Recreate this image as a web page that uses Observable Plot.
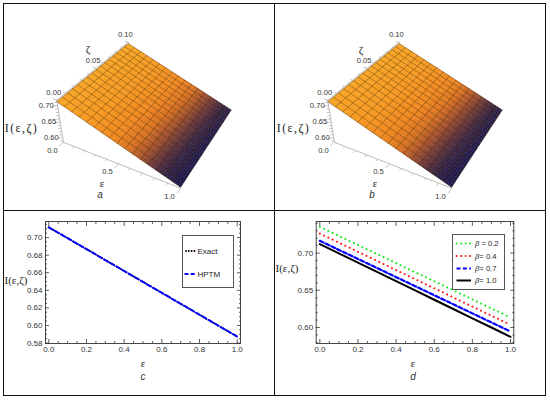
<!DOCTYPE html>
<html><head><meta charset="utf-8">
<script src="https://cdn.jsdelivr.net/npm/d3@7"></script>
<script src="https://cdn.jsdelivr.net/npm/@observablehq/plot@0.6"></script>
<style>
body{margin:0;background:#fff;}
#page{position:relative;width:550px;height:401px;overflow:hidden;background:#fff;font-family:"Liberation Sans",Arial,sans-serif;}
.panel{position:absolute;}
.lbl{position:absolute;transform:translate(-50%,-50%);white-space:nowrap;color:#222;line-height:1;}
.serif{font-family:"Liberation Serif","DejaVu Serif",serif;}
.let{font-style:italic;font-size:10px;color:#333;}
.line{position:absolute;background:#111;}
.legend{position:absolute;background:#fff;border:1px solid #555;box-sizing:border-box;}
</style></head>
<body><div id="page"></div>
<script>
// ---------------- data ----------------
// panel c (Exact vs HPTM)
const epsC   = [0, 0.1, 0.2, 0.3, 0.4, 0.5, 0.6, 0.7, 0.8, 0.9, 1.0];
const exactC = [0.7117, 0.6993, 0.6869, 0.6744, 0.6620, 0.6496, 0.6371, 0.6247, 0.6122, 0.5998, 0.5873];
const hptmC  = [0.7117, 0.6993, 0.6869, 0.6744, 0.6620, 0.6496, 0.6371, 0.6247, 0.6122, 0.5998, 0.5873];
// panel d (beta values)
const epsD   = [0, 0.1, 0.2, 0.3, 0.4, 0.5, 0.6, 0.7, 0.8, 0.9, 1.0];
const beta02 = [0.7353, 0.7231, 0.7109, 0.6987, 0.6865, 0.6743, 0.6622, 0.6500, 0.6378, 0.6256, 0.6134];
const beta04 = [0.7263, 0.7140, 0.7018, 0.6895, 0.6772, 0.6650, 0.6527, 0.6404, 0.6281, 0.6159, 0.6036];
const beta07 = [0.7165, 0.7043, 0.6921, 0.6799, 0.6677, 0.6556, 0.6434, 0.6312, 0.6190, 0.6068, 0.5946];
const beta10 = [0.7121, 0.6996, 0.6872, 0.6747, 0.6623, 0.6498, 0.6373, 0.6249, 0.6124, 0.6000, 0.5875];
const betaNames = ["0.2", "0.4", "0.7", "1.0"];
const betaEq    = [" = ", "= ", "= ", "= "];
// tick labels
const xTicks2D = [0, 0.2, 0.4, 0.6, 0.8, 1.0];
const yTicksC  = [0.58, 0.60, 0.62, 0.64, 0.66, 0.68, 0.70];
const yTicksD  = [0.60, 0.65, 0.70];
// surface panels a, b
const surfEps  = [0, 0.0625, 0.125, 0.1875, 0.25, 0.3125, 0.375, 0.4375, 0.5, 0.5625, 0.625, 0.6875, 0.75, 0.8125, 0.875, 0.9375, 1.0];
const surfZeta = [0, 0.00625, 0.0125, 0.01875, 0.025, 0.03125, 0.0375, 0.04375, 0.05, 0.05625, 0.0625, 0.06875, 0.075, 0.08125, 0.0875, 0.09375, 0.1];
const surfI    = [0.7117, 0.7039, 0.6962, 0.6884, 0.6806, 0.6728, 0.6651, 0.6573, 0.6495, 0.6417, 0.6340, 0.6262, 0.6184, 0.6106, 0.6029, 0.5951, 0.5873];
const zTicks3D    = [0.60, 0.65, 0.70];
const epsTicks3D  = [0.0, 0.5, 1.0];
const zetaTicks3D = [0.00, 0.05, 0.10];

// ---------------- helpers ----------------
const page = document.getElementById("page");
function place(node, left, top){ const d=document.createElement("div"); d.className="panel"; d.style.left=left+"px"; d.style.top=top+"px"; d.appendChild(node); page.appendChild(d); }
function label(html, x, y, cls, style){ const d=document.createElement("div"); d.className="lbl "+(cls||""); d.innerHTML=html; d.style.left=x+"px"; d.style.top=y+"px"; if(style) d.style.cssText+=style; page.appendChild(d); }
function hline(x,y,w,h){ const d=document.createElement("div"); d.className="line"; d.style.cssText+=`left:${x}px;top:${y}px;width:${w}px;height:${h}px;`; page.appendChild(d); }

// 3-D projection (Mathematica default viewpoint)
const VIEW = [1.3, -2.4, 2];
const Z_LO = 0.584, Z_HI = 0.716, ZETA_MAX = 0.1;
const nrm = v => { const l=Math.hypot(...v); return v.map(c=>c/l); };
const cross = (a,b) => [a[1]*b[2]-a[2]*b[1], a[2]*b[0]-a[0]*b[2], a[0]*b[1]-a[1]*b[0]];
const dot = (a,b) => a[0]*b[0]+a[1]*b[1]+a[2]*b[2];
const vdir = nrm(VIEW.map(c=>-c));
const vright = nrm(cross(vdir,[0,0,1]));
const vup = cross(vright, vdir);
function project(e, zt, I){
  const p=[e-0.5, zt/ZETA_MAX-0.5, (I-Z_LO)/(Z_HI-Z_LO)*0.4-0.2];
  const q=[p[0]-VIEW[0], p[1]-VIEW[1], p[2]-VIEW[2]];
  const d=dot(q,vdir);
  return {x: dot(q,vright)/d, y: dot(q,vup)/d};
}
const ramp = d3.scaleLinear()
  .domain([0, 0.3, 0.5, 0.62, 0.72, 0.82, 0.9, 1])
  .range(["#f8a31f","#f5951b","#ef8419","#d9701c","#a65028","#633137","#36213f","#1c1647"])
  .interpolate(d3.interpolateRgb).clamp(true);
const shade = (e, zt) => ramp(e + 0.08*(1 - zt/ZETA_MAX) - 0.04);

function surfacePlot(cx, cy){
  const W=270, H=206, K=432, n=surfEps.length-1, m=surfZeta.length-1, SU=4, SV=2;
  const quads=[], mesh=[];
  let qid=0;
  for(let i=0;i<n;i++) for(let j=0;j<m;j++){
    const p00=project(surfEps[i],surfZeta[j],surfI[i]), p10=project(surfEps[i+1],surfZeta[j],surfI[i+1]);
    const p11=project(surfEps[i+1],surfZeta[j+1],surfI[i+1]), p01=project(surfEps[i],surfZeta[j+1],surfI[i]);
    const bl=(u,v)=>({x:(1-u)*(1-v)*p00.x+u*(1-v)*p10.x+u*v*p11.x+(1-u)*v*p01.x,
                      y:(1-u)*(1-v)*p00.y+u*(1-v)*p10.y+u*v*p11.y+(1-u)*v*p01.y});
    for(let a=0;a<SU;a++) for(let b=0;b<SV;b++){
      const u0=a/SU,u1=(a+1)/SU,v0=b/SV,v1=(b+1)/SV;
      const c=shade(surfEps[i]+(u0+u1)/2*(surfEps[i+1]-surfEps[i]), surfZeta[j]+(v0+v1)/2*(surfZeta[j+1]-surfZeta[j]));
      const id=qid++;
      [[u0,v0],[u1,v0],[u1,v1],[u0,v1]].forEach(([u,v])=>{const p=bl(u,v); quads.push({id,x:p.x,y:p.y,c});});
    }
  }
  for(let j=0;j<=m;j++) for(let i=0;i<=n;i++){ const p=project(surfEps[i],surfZeta[j],surfI[i]); mesh.push({id:"z"+j,x:p.x,y:p.y}); }
  for(let i=0;i<=n;i++) for(let j=0;j<=m;j++){ const p=project(surfEps[i],surfZeta[j],surfI[i]); mesh.push({id:"e"+i,x:p.x,y:p.y}); }
  const axes=[];
  [[0,0,Z_LO],[0,0,Z_HI]].forEach(v=>{const p=project(...v); axes.push({id:"z",...p});});
  [[0,0,Z_LO],[1,0,Z_LO]].forEach(v=>{const p=project(...v); axes.push({id:"e",...p});});
  [[0,0,Z_HI],[0,ZETA_MAX,Z_HI]].forEach(v=>{const p=project(...v); axes.push({id:"t",...p});});
  const ticks=[];
  const tk=(a,b)=>{const p=project(...a), q=project(...b); ticks.push({x1:p.x,y1:p.y,x2:q.x,y2:q.y});};
  d3.range(0.59,0.715,0.01).forEach(I=>{const f=zTicks3D.some(t=>Math.abs(t-I)<1e-6)?1:0.5; tk([0,0,I],[-0.03*f,-0.003*f,I]);});
  d3.range(0,1.0001,0.1).forEach(e=>{const f=epsTicks3D.some(t=>Math.abs(t-e)<1e-6)?1:0.5; tk([e,0,Z_LO],[e,-0.005*f,Z_LO]);});
  d3.range(0,0.10001,0.01).forEach(z=>{const f=zetaTicks3D.some(t=>Math.abs(t-z)<1e-6)?1:0.5; tk([0,z,Z_HI],[-0.035*f,z,Z_HI]);});
  const zl=zTicks3D.map(I=>({...project(0,0,I), t:d3.format(".2f")(I)}));
  const el=epsTicks3D.map(e=>({...project(e,0,Z_LO), t:d3.format(".1f")(e)}));
  const tl=zetaTicks3D.map(z=>({...project(0,z,Z_HI), t:d3.format(".2f")(z)}));
  const txt={fontSize:7.6, fill:"#333", fontFamily:"Liberation Sans, Arial, sans-serif"};
  return Plot.plot({
    width:W, height:H, margin:0,
    x:{domain:[-cx/K,(W-cx)/K], range:[0,W], axis:null},
    y:{domain:[(cy-H)/K, cy/K], range:[H,0], axis:null},
    style:{background:"transparent", overflow:"visible"},
    marks:[
      Plot.line(axes,{x:"x",y:"y",z:"id",stroke:"#b4b4b4",strokeWidth:0.9}),
      Plot.link(ticks,{x1:"x1",y1:"y1",x2:"x2",y2:"y2",stroke:"#aaa",strokeWidth:0.7}),
      Plot.line(quads,{x:"x",y:"y",z:"id",fill:"c",stroke:"c",strokeWidth:0.35,curve:"linear-closed"}),
      Plot.line(mesh,{x:"x",y:"y",z:"id",stroke:"#3a240c",strokeOpacity:0.62,strokeWidth:0.6}),
      Plot.text(zl,{x:"x",y:"y",text:"t",textAnchor:"end",dx:-4,dy:0,...txt}),
      Plot.text(el,{x:"x",y:"y",text:"t",dx:-11,dy:8,...txt}),
      Plot.text(tl,{x:"x",y:"y",text:"t",dx:-3,dy:-8,...txt})
    ]
  });
}

function frameMarks(yTicks, yMinor, yFmt){
  const xMinor=d3.range(0,1.0001,0.05).filter(v=>!xTicks2D.some(t=>Math.abs(t-v)<1e-6));
  const st={stroke:"#333", strokeWidth:0.8, label:null, tickFormat:()=>""};
  const marks=[Plot.frame({stroke:"#333",strokeWidth:0.9})];
  ["bottom","top"].forEach(a=>{
    marks.push(Plot.axisX({...st,anchor:a,ticks:xTicks2D,tickSize:-4}));
    marks.push(Plot.axisX({...st,anchor:a,ticks:xMinor,tickSize:-2}));
  });
  ["left","right"].forEach(a=>{
    marks.push(Plot.axisY({...st,anchor:a,ticks:yTicks,tickSize:-4}));
    marks.push(Plot.axisY({...st,anchor:a,ticks:yMinor,tickSize:-2}));
  });
  marks.push(Plot.axisX({anchor:"bottom",ticks:xTicks2D,tickSize:0,tickPadding:3,tickFormat:d3.format(".1f"),label:null,fontSize:8,fill:"#333"}));
  marks.push(Plot.axisY({anchor:"left",ticks:yTicks,tickSize:0,tickPadding:3,tickFormat:yFmt,label:null,fontSize:8,fill:"#333"}));
  return marks;
}

// ---------------- panels a, b ----------------
place(surfacePlot(146.6, 101.5), 4, 4);
place(surfacePlot(145.6, 101.5), 276, 4);

// ---------------- panel c ----------------
const rowsC = epsC.map((e,i)=>({e, exact:exactC[i], hptm:hptmC[i]}));
place(Plot.plot({
  width:270, height:183, marginLeft:41, marginRight:34, marginTop:9, marginBottom:52,
  x:{domain:[-0.0175,1.0175], axis:null, label:null}, y:{domain:[0.5795,0.7183], axis:null, label:null},
  style:{background:"transparent", fontFamily:"Liberation Sans, Arial, sans-serif", color:"#333"},
  marks:[
    Plot.line(rowsC,{x:"e",y:"exact",stroke:"#000",strokeWidth:1.8,strokeDasharray:"0.1 2.7",strokeLinecap:"round"}),
    Plot.line(rowsC,{x:"e",y:"hptm",stroke:"#0000ff",strokeWidth:2,strokeDasharray:"4.5 2.6"}),
    ...frameMarks(yTicksC, d3.range(0.58,0.7181,0.005).filter(v=>!yTicksC.some(t=>Math.abs(t-v)<1e-6)), d3.format(".2f"))
  ]
}), 4, 212);

// ---------------- panel d ----------------
const rowsD = epsD.map((e,i)=>({e, b02:beta02[i], b04:beta04[i], b07:beta07[i], b10:beta10[i]}));
place(Plot.plot({
  width:269, height:183, marginLeft:39.7, marginRight:31.7, marginTop:9, marginBottom:52,
  x:{domain:[-0.019,1.0173], axis:null, label:null}, y:{domain:[0.5785,0.7425], axis:null, label:null},
  style:{background:"transparent", fontFamily:"Liberation Sans, Arial, sans-serif", color:"#333"},
  marks:[
    Plot.line(rowsD,{x:"e",y:"b02",stroke:"#1ee81e",strokeWidth:2,strokeDasharray:"0.1 4.6",strokeLinecap:"round"}),
    Plot.line(rowsD,{x:"e",y:"b04",stroke:"#ff1a1a",strokeWidth:2,strokeDasharray:"0.1 4.6",strokeLinecap:"round"}),
    Plot.line(rowsD,{x:"e",y:"b07",stroke:"#0000ff",strokeWidth:2.2,strokeDasharray:"4 2.4"}),
    Plot.line(rowsD,{x:"e",y:"b10",stroke:"#000",strokeWidth:2}),
    ...frameMarks(yTicksD, d3.range(0.58,0.7421,0.01).filter(v=>!yTicksD.some(t=>Math.abs(t-v)<1e-6)), d3.format(".2f"))
  ]
}), 276, 212);

// ---------------- legends ----------------
function legendBox(left, top, w, h, items){
  const box=document.createElement("div"); box.className="legend";
  box.style.cssText+=`left:${left}px;top:${top}px;width:${w}px;height:${h}px;`;
  const svg=d3.create("svg").attr("width",w-2).attr("height",h-2).style("position","absolute").style("left","0").style("top","0");
  items.forEach(it=>{
    svg.append("line").attr("x1",it.x1).attr("x2",it.x2).attr("y1",it.y).attr("y2",it.y)
      .attr("stroke",it.stroke).attr("stroke-width",it.sw).attr("stroke-dasharray",it.dash||null).attr("stroke-linecap",it.cap||"butt");
    const t=svg.append("text").attr("x",it.tx).attr("y",it.y).attr("dy","0.35em").attr("font-size",it.fs).attr("fill","#222")
      .attr("font-family","Liberation Sans, Arial, sans-serif");
    it.text(t);
  });
  box.appendChild(svg.node()); page.appendChild(box);
}
legendBox(182, 235, 52, 53, [
  {y:15, x1:3, x2:12, stroke:"#000", sw:1.8, dash:"0.1 2.7", cap:"round", tx:14.5, fs:8, text:t=>t.text("Exact")},
  {y:38, x1:1.5, x2:12, stroke:"#0000ff", sw:2, dash:"4 2.2", tx:14.5, fs:8, text:t=>t.text("HPTM")}
]);
const legStyles=[
  {stroke:"#1ee81e", sw:2, dash:"0.1 4.4", cap:"round"},
  {stroke:"#ff1a1a", sw:2, dash:"0.1 4.4", cap:"round"},
  {stroke:"#0000ff", sw:2.2, dash:"4 2.4"},
  {stroke:"#000", sw:2}
];
legendBox(452, 234, 53, 56, betaNames.map((b,i)=>({
  y:[8.5,21,33.5,45.5][i], x1:3.5, x2:18, ...legStyles[i], tx:22, fs:7.6,
  text:t=>{ t.append("tspan").attr("font-style","italic").text("β"); t.append("tspan").text(betaEq[i]+b); }
})));

// ---------------- labels ----------------
const IL = "I(ε,ζ)";
label(IL, 21.5, 127.5, "serif", "font-size:12px;letter-spacing:1.4px;");
label("ζ", 88, 49, "serif", "font-size:11px;");
label("ε", 102, 183, "serif", "font-size:11px;");
label("a", 100, 195, "let");
label(IL, 293.5, 127.5, "serif", "font-size:12px;letter-spacing:1.4px;");
label("ζ", 361, 50, "serif", "font-size:11px;");
label("ε", 375, 183, "serif", "font-size:11px;");
label("b", 372, 195, "let");
label(IL, 16, 280, "serif", "font-size:11px;");
label("ε", 143, 363, "serif", "font-size:11px;");
label("c", 143, 377, "let");
label(IL, 287, 268, "serif", "font-size:11px;");
label("ε", 413, 363, "serif", "font-size:11px;");
label("d", 413, 377, "let");

// ---------------- frame lines ----------------
hline(3,3,543,1.3);
hline(3,395,543,1.3);
hline(3,3,1.3,393);
hline(545,3,1.3,393);
hline(274,3,1.3,393);
hline(3,210,543,1.3);
</script></body></html>
